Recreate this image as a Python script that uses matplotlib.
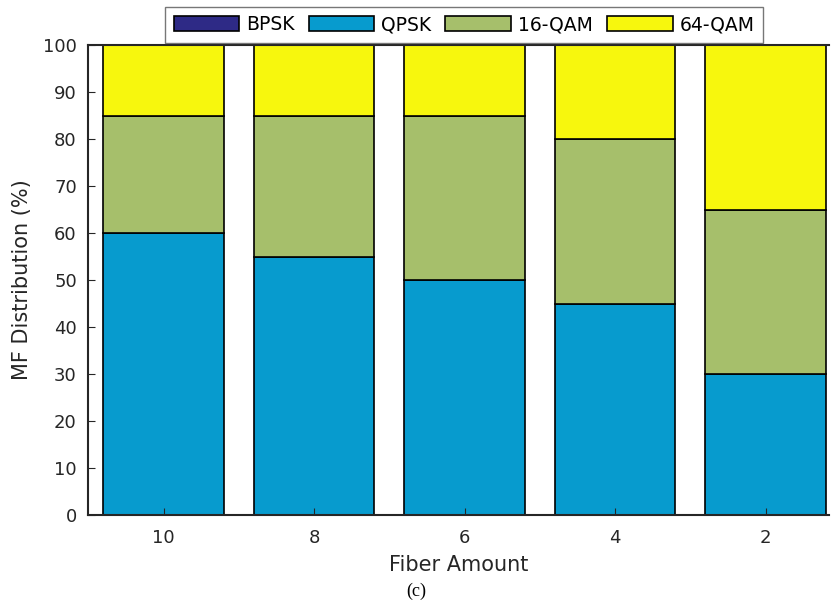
import matplotlib.pyplot as plt
import numpy as np

plt.rcParams['font.family'] = ['DejaVu Sans']

# Data
fiber_amount = ["10", "8", "6", "4", "2"]
bpsk = [0, 0, 0, 0, 0]
qpsk = [60, 55, 50, 45, 30]
qam16 = [25, 30, 35, 35, 35]
qam64 = [15, 15, 15, 20, 35]

series = [("BPSK", bpsk, "#2e2a86"),
          ("QPSK", qpsk, "#079bce"),
          ("16-QAM", qam16, "#a6bf6b"),
          ("64-QAM", qam64, "#f7f70d")]

fig = plt.figure(figsize=(8.33, 6.02), dpi=100)
ax = fig.add_axes([0.1056, 0.1445, 0.8894, 0.7807])

x = np.arange(1, len(fiber_amount) + 1)
bottom = np.zeros(len(x))
handles = []
for name, vals, color in series:
    b = ax.bar(x, vals, width=0.8, bottom=bottom, color=color,
               edgecolor="black", linewidth=1.2, label=name)
    handles.append(b)
    bottom += np.array(vals)

ax.set_xlim(0.497, 5.42)
ax.set_ylim(0, 100)
ax.set_yticks(range(0, 101, 10))
ax.set_xticks(x)
ax.set_xticklabels(fiber_amount)
ax.tick_params(direction="in", labelsize=13, colors="#262626", length=5)
ax.tick_params(axis="x", pad=10)
ax.tick_params(axis="y", pad=8)
for s in ax.spines.values():
    s.set_color("#262626")
    s.set_linewidth(1.5)
ax.spines["right"].set_visible(False)

ax.set_xlabel("Fiber Amount", fontsize=15, color="#262626", labelpad=6)
ax.set_ylabel("MF Distribution (%)", fontsize=15, color="#262626", labelpad=8)

leg = fig.legend(handles=handles, loc="center", bbox_to_anchor=(0.557, 0.959),
                 ncol=4, fontsize=13.5, frameon=True, fancybox=False,
                 handlelength=3.5, handleheight=0.85, handletextpad=0.37,
                 columnspacing=0.75, borderpad=0.45, borderaxespad=0)
leg.get_frame().set_edgecolor("#555555")
leg.get_frame().set_linewidth(1.0)

fig.text(0.5, 0.017, "(c)", fontsize=13, family=["Liberation Serif", "DejaVu Serif"],
         ha="center", va="center")

fig.savefig("out.png", dpi=100)
